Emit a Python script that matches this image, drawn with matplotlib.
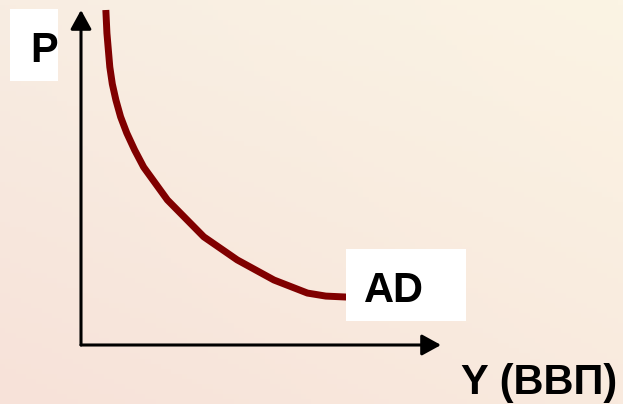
import numpy as np
import matplotlib
matplotlib.use('Agg')
import matplotlib.pyplot as plt
from matplotlib.patches import Rectangle

# AD curve (Y = output, P = price level, 0..100 along the axes)
y_vals = [6.9, 7.2, 8.0, 8.7, 9.7, 11.0, 12.7, 14.9, 17.4, 24.0, 34.1,
          43.4, 53.6, 62.9, 68.0, 74.0]
p_vals = [100.0, 93.1, 83.0, 77.9, 73.1, 68.1, 63.3, 58.2, 53.1, 43.3,
          32.3, 25.4, 19.4, 15.5, 14.6, 14.3]

label_p = 'P'
label_y = 'Y (ВВП)'
label_curve = 'AD'

W, H = 623, 404
font = dict(family=['Liberation Sans', 'DejaVu Sans'], weight='bold',
            size=30, color='black')


def fx(px):
    return px / W


def fy(py):
    return 1 - py / H


fig = plt.figure(figsize=(W / 100, H / 100), dpi=100)

# background: soft beige / pink gradient
bg = fig.add_axes([0, 0, 1, 1])
corners = np.array([[[248, 237, 226], [251, 244, 228]],
                    [[247, 226, 217], [249, 234, 222]]]) / 255.0
ny, nx = 80, 120
ty = np.linspace(0, 1, ny)[:, None, None]
tx = np.linspace(0, 1, nx)[None, :, None]
top = corners[0, 0] * (1 - tx) + corners[0, 1] * tx
bot = corners[1, 0] * (1 - tx) + corners[1, 1] * tx
img = top * (1 - ty) + bot * ty
bg.imshow(img, aspect='auto', extent=[0, 1, 0, 1], origin='upper')
bg.set_xlim(0, 1)
bg.set_ylim(0, 1)
bg.axis('off')

# main axes: origin at the corner of the two arrows
ax = fig.add_axes([fx(81), fy(345), fx(441) - fx(81), fy(10) - fy(345)])
ax.set_xlim(0, 100)
ax.set_ylim(0, 100)
ax.axis('off')
ax.patch.set_alpha(0)

arrow = dict(arrowstyle='-|>,head_length=0.4,head_width=0.22', lw=2.2,
             color='black', mutation_scale=29, shrinkA=0, shrinkB=0)
ax.annotate('', xy=(100, 0), xytext=(0, 0), arrowprops=arrow,
            annotation_clip=False)
ax.annotate('', xy=(0, 100), xytext=(0, 0), arrowprops=arrow,
            annotation_clip=False)

ax.plot(y_vals, p_vals, color='#800000', lw=5, solid_capstyle='butt',
        solid_joinstyle='round', clip_on=False)

# white label boxes
for x0, y0, x1, y1 in [(10, 9, 58, 81), (346, 249, 466, 321)]:
    fig.patches.append(Rectangle((fx(x0), fy(y1)), fx(x1) - fx(x0),
                                 fy(y0) - fy(y1), transform=fig.transFigure,
                                 facecolor='white', edgecolor='none',
                                 zorder=3))

fig.text(fx(30), fy(46), label_p, ha='left', va='center_baseline',
         zorder=4, **font)
fig.text(fx(364), fy(287), label_curve, ha='left', va='center_baseline',
         zorder=4, **font)
fig.text(fx(461), fy(394), label_y, ha='left', va='baseline',
         zorder=4, **font)

fig.savefig('out.png', dpi=100)
